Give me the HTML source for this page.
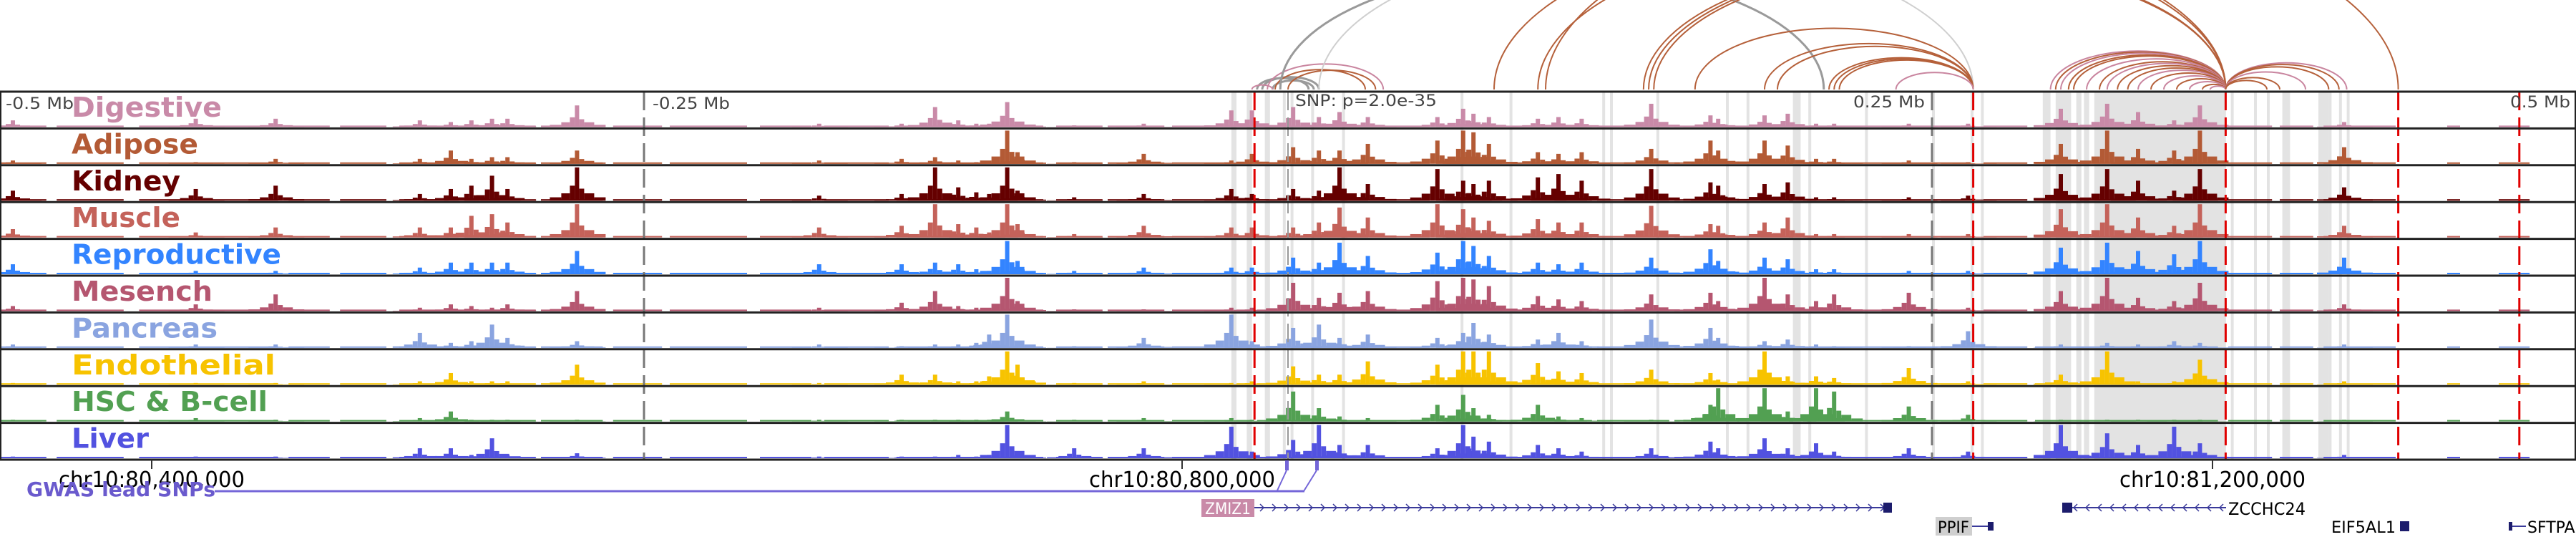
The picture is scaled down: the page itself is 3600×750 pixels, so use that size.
<!DOCTYPE html>
<html><head><meta charset="utf-8">
<style>
html,body{margin:0;padding:0;background:#fff;}
svg{display:block;}
text{font-family:"DejaVu Sans","Liberation Sans",sans-serif;}
</style></head>
<body>
<svg id="chart" width="3600" height="750" viewBox="0 0 3600 750" xmlns="http://www.w3.org/2000/svg">
  <defs><clipPath id="arcclip"><rect x="0" y="0" width="3600" height="126"/></clipPath></defs>
  <g id="arcs" clip-path="url(#arcclip)"></g>
  <g id="bands"></g>
  <g id="tracks"></g>
  <g id="vlines"></g>
  <g id="frames"></g>
  <g id="labels"></g>
  <text x="8" y="152" font-size="22" fill="#444" textLength="95" lengthAdjust="spacingAndGlyphs">-0.5 Mb</text>
  <text x="912" y="152" font-size="22" fill="#444" textLength="108" lengthAdjust="spacingAndGlyphs">-0.25 Mb</text>
  <text x="1810" y="148" font-size="22" fill="#444" textLength="198" lengthAdjust="spacingAndGlyphs">SNP: p=2.0e-35</text>
  <text x="2590" y="150" font-size="22" fill="#444" textLength="100" lengthAdjust="spacingAndGlyphs">0.25 Mb</text>
  <text x="3508" y="150" font-size="22" fill="#444" textLength="84" lengthAdjust="spacingAndGlyphs">0.5 Mb</text>
  <g id="axis"></g>
  <g id="gwas"></g>
  <g id="genes"></g>
</svg>
<script>
// ---------- data ----------
const trackNames = ["Digestive","Adipose","Kidney","Muscle","Reproductive","Mesench","Pancreas","Endothelial","HSC & B-cell","Liver"];
const peakKb = [-495,-424,-393,-337,-325,-317,-309,-303,-276,-182,-150,-137,-128,-121,-116,-109,-105,-83,-56,-22,-14,2,12,20,31,58,68,72,78,97,105,114,141,164,167,185,194,205,212,241,264,300,318,330,344,354,410];
const hDigestive   = [.2,.25,.25,.2,.15,.2,.25,.25,.65,.1,.1,.6,.2,.1,.1,.75,.15,.05,.1,.5,.5,.6,.3,.45,.3,.3,.55,.4,.3,.25,.3,.25,.7,.35,.25,.35,.4,.1,.1,.1,.1,.55,.7,.45,.2,.65,.15];
const hAdipose     = [.1,.05,.15,.15,.4,.15,.2,.2,.4,.1,.15,.2,.1,.05,.05,1,.35,.05,.3,.1,.3,.5,.4,.4,.6,.7,1,.95,.6,.35,.3,.35,.45,.7,.4,.7,.55,.15,.15,.1,.05,.6,1,.45,.4,1,.5];
const hKidney      = [.3,.35,.45,.2,.35,.45,.75,.35,1,.15,.2,1,.4,.25,.2,1,.3,.1,.2,.35,.2,.35,.3,1,.5,.95,.6,.5,.6,.7,.8,.6,.95,.55,.45,.5,.55,.1,.1,.1,.15,.8,.95,.6,.3,.95,.4];
const hMuscle      = [.25,.15,.3,.3,.3,.65,.7,.45,1,.3,.35,1,.4,.3,.15,1,.4,.1,.35,.3,.3,.3,.45,.9,.6,1,.85,.6,.5,.55,.45,.45,.95,.4,.35,.45,.6,.1,.1,.1,.1,.85,1,.6,.35,1,.35];
const hReproductive= [.3,.1,.1,.2,.35,.35,.35,.35,.7,.3,.3,.35,.3,.15,.1,1,.4,.1,.2,.2,.2,.5,.35,.95,.55,.65,1,.85,.55,.35,.3,.35,.5,.75,.4,.5,.45,.15,.15,.1,.1,.8,.95,.7,.6,1,.5];
const hMesench     = [.15,.2,.5,.1,.2,.15,.1,.2,.6,.1,.25,.6,.15,.1,.05,1,.3,.05,.05,.1,.1,.85,.4,.55,.6,.9,1,.95,.75,.45,.35,.3,.5,.55,.3,1,.5,.3,.5,.55,.1,.6,1,.4,.3,.85,.2];
const hPancreas    = [.1,.1,.1,.45,.15,.2,.7,.3,.2,.1,.05,.1,.1,.15,.4,1,.15,.05,.3,1,.2,.6,.7,.3,.4,.3,.45,.75,.4,.25,.45,.2,.85,.6,.3,.2,.25,.1,.05,.05,.5,.1,.15,.1,.2,.15,.1];
const hEndothelial = [.05,.05,.05,.1,.35,.1,.1,.1,.6,.05,.3,.3,.1,.1,.25,1,.6,.05,.1,.05,.1,.55,.3,.3,.7,.6,1,1,1,.65,.4,.35,.45,.35,.15,1,.25,.25,.2,.5,.1,.3,1,.1,.1,.75,.1];
const hHSC         = [.05,.1,.05,.1,.3,.05,.05,.05,.05,.05,.05,.05,.05,.05,.05,.3,.05,.05,.1,.1,.05,.9,.4,.15,.1,.5,.8,.4,.2,.5,.15,.1,.05,.5,1,1,.3,1,.9,.45,.2,.05,.05,.05,.05,.05,.05];
const hLiver       = [.05,.05,.05,.3,.3,.1,.6,.1,.15,.05,.05,.05,.1,.05,.1,1,.2,.3,.3,.95,.2,.55,1,.4,.4,.3,1,.65,.5,.4,.3,.2,.3,.5,.3,.6,.3,.45,.2,.3,.2,1,.75,.4,.95,.45,.1];
const trackHeights = [hDigestive,hAdipose,hKidney,hMuscle,hReproductive,hMesench,hPancreas,hEndothelial,hHSC,hLiver];
const trackColors = ["#c98aa8","#b35a35","#650000","#c4625a","#3384ff","#b55670","#8aa4e0","#f7c300","#52a052","#5252e0"];
const labelWidths = [210,177,152,152,293,197,204,285,274,108];
// baseline coverage segments (kb)
const bgStart = [-500,-478,-446,-388,-368,-345,-320,-290,-262,-240,-205,-180,-152,-90,-70,-45,-20,-12,60,120,150,200,270,290,365,385,402,450,470];
const bgEnd   = [-482,-452,-392,-372,-350,-322,-292,-266,-243,-210,-185,-155,-95,-72,-48,-22,-14,55,118,148,196,265,287,361,382,398,430,455,482];
// arcs (kb anchors) and type
const arcStart = [-12,-10,-6,-14,-8,-5,0,-3,12,80,97,138,140,142,158,185,190,210,212,214,236,296,298,300,303,305,310,315,318,322,326,330,335,340,345,350,355,358,364,364,364,364,364,364,100];
const arcEnd   = [8,12,10,-6,37,30,34,208,266,364,364,364,364,364,266,266,266,266,266,266,266,364,364,364,364,364,364,364,364,364,364,364,364,364,364,364,364,364,411,408,404,395,385,380,431];
const arcType  = ["g","g","g","p","p","b","b","g","lg","b","b","b","b","b","b","b","b","b","b","b","p","p","b","p","b","b","p","b","p","b","b","p","b","p","b","p","b","p","p","b","b","p","b","b","b"];
// highlight columns (kb start, kb end)
const bandStart = [-22,-16,-9,-2,1,9,21,67,86,122,125,143,170,178,196,202,224,250,265,269,293,298,302,306,309,313,322,326,331,361,363,366,375,380,386,400,404,408,411];
const bandEnd   = [-20,-14,-7,-1,2,10,22,68,87,123,126,144,171,179,199,203,225,251,266,270,296,303,304,308,311,363,323,327,332,362,364,367,376,381,389,404,405,409,412];
const redKb = [-13,266,364,431,478];
const grayKb = [-250,0,250];

// ---------- helpers ----------
const NS = "http://www.w3.org/2000/svg";
const kb2x = kb => 1800 + kb * 3.6;
const TOP = 128, TH = 51.4, NT = 10;
function mk(tag, parent, attrs) {
  const e = document.createElementNS(NS, tag);
  for (const k in attrs) e.setAttribute(k, attrs[k]);
  parent.appendChild(e);
  return e;
}

// arcs
const arcG = document.getElementById("arcs");
const arcCol = {g:"#9a9a9a", lg:"#cfcfcf", b:"#b5603a", p:"#c9859f"};
for (let i = 0; i < arcStart.length; i++) {
  const x1 = kb2x(arcStart[i]), x2 = kb2x(arcEnd[i]);
  const rx = (x2 - x1) / 2, ry = (x2 - x1) * 0.22, y0 = 125;
  const p = mk("path", arcG, {d:`M${x1},${y0} A${rx},${ry} 0 0 1 ${x2},${y0}`, fill:"none", stroke:arcCol[arcType[i]], "stroke-width": arcType[i]==="g"?3:2});
  
  
}

// bands
const bandG = document.getElementById("bands");
for (let i = 0; i < bandStart.length; i++) {
  const x1 = kb2x(bandStart[i]), x2 = kb2x(bandEnd[i]);
  const r = mk("rect", bandG, {x:x1, y:TOP, width:Math.max(4, x2 - x1), height:TH*NT, fill:"#e3e3e3"});
  
  
}

// tracks
const trG = document.getElementById("tracks");
const labG = document.getElementById("labels");
for (let t = 0; t < NT; t++) {
  const top = TOP + t * TH, base = top + TH - 2, maxH = TH - 5;
  const g = mk("g", trG, {fill:trackColors[t]});
  
  
  for (let i = 0; i < bgStart.length; i++) {
    const x1 = kb2x(bgStart[i]), x2 = kb2x(bgEnd[i]);
    mk("rect", g, {x:x1, y:base-2, width:x2-x1, height:2});
  }
  const hs = trackHeights[t];
  for (let i = 0; i < peakKb.length; i++) {
    const h = hs[i] * maxH; if (h < 2) continue;
    const cx = kb2x(peakKb[i]);
    const b = mk("rect", g, {x:cx-3, y:base-h, width:6, height:h});
    
    
    const s1 = h * 0.45, s2 = h * 0.22, s3 = h * 0.1;
    mk("rect", g, {x:cx-10, y:base-s1, width:7, height:s1});
    mk("rect", g, {x:cx+3, y:base-s1*0.8, width:7, height:s1*0.8});
    mk("rect", g, {x:cx-22, y:base-s2, width:12, height:s2});
    mk("rect", g, {x:cx+10, y:base-s2, width:14, height:s2});
    mk("rect", g, {x:cx-38, y:base-s3, width:16, height:s3});
    mk("rect", g, {x:cx+24, y:base-s3, width:16, height:s3});
  }
  const lab = mk("text", labG, {x:100, y:top+35, "font-size":38, "font-weight":"bold", fill:trackColors[t], textLength:labelWidths[t], lengthAdjust:"spacingAndGlyphs"});
  lab.textContent = trackNames[t];
  
  
}

// vertical marker lines
const vG = document.getElementById("vlines");
for (const k of redKb) {
  const l = mk("line", vG, {x1:kb2x(k), x2:kb2x(k), y1:TOP, y2:TOP+TH*NT, stroke:"#e00000", "stroke-width":3, "stroke-dasharray":"26 10"});
  
  
}
for (const k of grayKb) {
  const l = mk("line", vG, {x1:kb2x(k), x2:kb2x(k), y1:TOP, y2:TOP+TH*NT, stroke:k===0?"#999":"#777", "stroke-width":k===0?2:3, "stroke-dasharray":"26 10"});
  
  
}

// frames
const fG = document.getElementById("frames");
for (let t = 0; t <= NT; t++) {
  mk("line", fG, {x1:0, x2:3600, y1:TOP+t*TH, y2:TOP+t*TH, stroke:"#222", "stroke-width":3});
}
mk("line", fG, {x1:1, x2:1, y1:TOP, y2:TOP+TH*NT, stroke:"#222", "stroke-width":2});
mk("line", fG, {x1:3599, x2:3599, y1:TOP, y2:TOP+TH*NT, stroke:"#222", "stroke-width":2});

// axis
const axG = document.getElementById("axis");
const axTicks = [212, 1652, 3092];
const axLabels = ["chr10:80,400,000","chr10:80,800,000","chr10:81,200,000"];
for (let i = 0; i < axTicks.length; i++) {
  mk("line", axG, {x1:axTicks[i], x2:axTicks[i], y1:642, y2:655, stroke:"#333", "stroke-width":2});
  const tx = mk("text", axG, {x:axTicks[i], y:680, "font-size":30, "text-anchor":"middle", fill:"#000", textLength:260, lengthAdjust:"spacingAndGlyphs"});
  tx.textContent = axLabels[i];
  
  
}

// gwas
const gw = document.getElementById("gwas");
mk("line", gw, {x1:300, x2:1823, y1:686, y2:686, stroke:"#7466d8", "stroke-width":3});
mk("polyline", gw, {points:"1798,657 1785,685", fill:"none", stroke:"#7466d8", "stroke-width":2});
mk("polyline", gw, {points:"1840,657 1822,686", fill:"none", stroke:"#7466d8", "stroke-width":2});
mk("rect", gw, {x:1796, y:643, width:5, height:14, fill:"#7466d8"});
mk("rect", gw, {x:1838, y:643, width:5, height:14, fill:"#7466d8"});
const gl = mk("text", gw, {x:37, y:693, "font-size":28, "font-weight":"bold", fill:"#6a5acd", textLength:264, lengthAdjust:"spacingAndGlyphs"});
gl.textContent = "GWAS lead SNPs";



// genes
const gn = document.getElementById("genes");
const navy = "#1c1c6c";
function gene(x1, x2, y, dir) {
  mk("line", gn, {x1:x1, x2:x2, y1:y, y2:y, stroke:"#3a3a9a", "stroke-width":2});
  for (let x = x1 + 8; x < x2 - 6; x += 17) {
    const d = dir > 0 ? `M${x},${y-5} L${x+5},${y} L${x},${y+5}` : `M${x+5},${y-5} L${x},${y} L${x+5},${y+5}`;
    mk("path", gn, {d:d, fill:"none", stroke:"#3a3a9a", "stroke-width":1.5});
  }
}
mk("rect", gn, {x:1679, y:697, width:74, height:25, fill:"#c98aa8"});
const zt = mk("text", gn, {x:1716, y:718, "font-size":22, "text-anchor":"middle", fill:"#fff", textLength:64, lengthAdjust:"spacingAndGlyphs"});
zt.textContent = "ZMIZ1";


gene(1753, 2640, 709, 1);
mk("rect", gn, {x:2632, y:702, width:12, height:14, fill:navy});
gene(2890, 3111, 709, -1);
mk("rect", gn, {x:2882, y:702, width:14, height:14, fill:navy});
const zc = mk("text", gn, {x:3114, y:719, "font-size":24, fill:"#000", textLength:108, lengthAdjust:"spacingAndGlyphs"});
zc.textContent = "ZCCHC24";


mk("rect", gn, {x:2705, y:722, width:51, height:26, fill:"#cfcfcf"});
const pp = mk("text", gn, {x:2730, y:744, "font-size":22, "text-anchor":"middle", fill:"#000", textLength:44, lengthAdjust:"spacingAndGlyphs"});
pp.textContent = "PPIF";


mk("line", gn, {x1:2756, x2:2786, y1:735, y2:735, stroke:"#3a3a9a", "stroke-width":2});
mk("rect", gn, {x:2778, y:729, width:8, height:12, fill:navy});
const ef = mk("text", gn, {x:3258, y:744, "font-size":22, fill:"#000", textLength:90, lengthAdjust:"spacingAndGlyphs"});
ef.textContent = "EIF5AL1";


mk("rect", gn, {x:3354, y:728, width:13, height:14, fill:navy});
mk("line", gn, {x1:3508, x2:3530, y1:735, y2:735, stroke:"#3a3a9a", "stroke-width":2});
mk("rect", gn, {x:3506, y:729, width:5, height:12, fill:navy});
const sf = mk("text", gn, {x:3532, y:744, "font-size":22, fill:"#000"});
sf.textContent = "SFTPA1";


</script>
</body></html>
